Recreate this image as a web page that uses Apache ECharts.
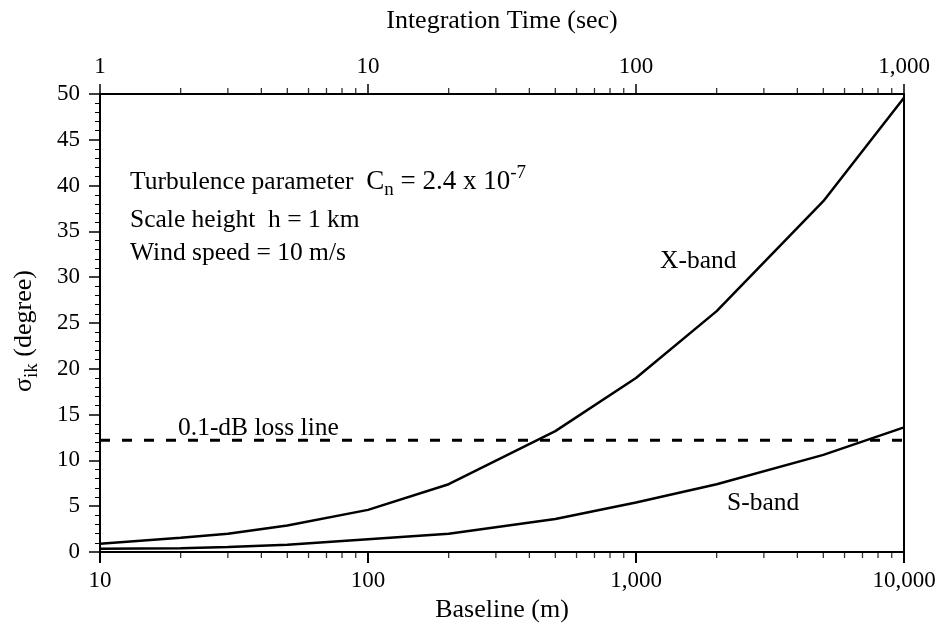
<!DOCTYPE html>
<html>
<head>
<meta charset="utf-8">
<script src="https://cdn.jsdelivr.net/npm/echarts@6/dist/echarts.min.js"></script>
<style>
  html, body { margin: 0; padding: 0; background: #fff; }
  #main { width: 942px; height: 629px; }
</style>
</head>
<body>
<div id="main"></div>
<script>
// baseline (m) sample points
var baseline = [10, 20, 30, 50, 100, 200, 500, 1000, 2000, 5000, 10000];
var xBand = [0.9, 1.55, 2.0, 2.9, 4.6, 7.4, 13.2, 19.0, 26.3, 38.3, 49.6];
var sBand = [0.35, 0.4, 0.55, 0.8, 1.4, 2.0, 3.6, 5.4, 7.4, 10.6, 13.6];
// 0.1-dB loss line
var lossX = [10, 10000];
var lossY = 12.2;
// minor ticks of the two log axes
var minorBottom = [20, 30, 40, 50, 60, 70, 80, 90, 200, 300, 400, 500, 600, 700, 800, 900,
    2000, 3000, 4000, 5000, 6000, 7000, 8000, 9000];
var minorTop = [2, 3, 4, 5, 6, 7, 8, 9, 20, 30, 40, 50, 60, 70, 80, 90,
    200, 300, 400, 500, 600, 700, 800, 900];

var FONT = 'Liberation Serif';
var TXT = 25.5;

function pairs(xs, ys) {
    return xs.map(function (x, i) { return [x, ys[i]]; });
}
function fmt(v) {
    return String(v).replace(/\B(?=(\d{3})+(?!\d))/g, ',');
}

var myChart = echarts.init(document.getElementById('main'));
var option = {
    animation: false,
    grid: {
        left: 100,
        right: 38,
        top: 94,
        bottom: 77,
        outerBoundsMode: 'none'
    },
    xAxis: [{
        type: 'log',
        logBase: 10,
        min: 10,
        max: 10000,
        name: 'Baseline (m)',
        nameLocation: 'middle',
        nameGap: 43,
        nameTextStyle: { fontFamily: FONT, fontSize: 26, color: '#000' },
        axisLine: { onZero: false, lineStyle: { color: '#000', width: 2 } },
        axisTick: { length: 11, lineStyle: { color: '#000', width: 2 } },
        axisLabel: {
            margin: 17, fontFamily: FONT, fontSize: 23, color: '#000',
            formatter: function (v) { return fmt(v); }
        },
        splitLine: { show: false }
    }, {
        type: 'log',
        logBase: 10,
        min: 1,
        max: 1000,
        position: 'top',
        name: 'Integration Time (sec)',
        nameLocation: 'middle',
        nameGap: 60,
        nameTextStyle: { fontFamily: FONT, fontSize: 26, color: '#000' },
        axisLine: { onZero: false, lineStyle: { color: '#000', width: 2 } },
        axisTick: { length: 10, lineStyle: { color: '#000', width: 1.5 } },
        axisLabel: {
            margin: 16, fontFamily: FONT, fontSize: 23, color: '#000',
            formatter: function (v) { return fmt(v); }
        },
        splitLine: { show: false }
    }],
    yAxis: [{
        type: 'value',
        min: 0,
        max: 50,
        interval: 5,
        axisLine: { show: true, onZero: false, lineStyle: { color: '#000', width: 2 } },
        axisTick: { length: 11, lineStyle: { color: '#000', width: 1.5 } },
        minorTick: { show: true, splitNumber: 5, length: 5, lineStyle: { color: '#000', width: 1 } },
        axisLabel: { margin: 20, fontFamily: FONT, fontSize: 23, color: '#000' },
        splitLine: { show: false }
    }, {
        type: 'value',
        min: 0,
        max: 50,
        position: 'right',
        axisLine: { show: true, onZero: false, lineStyle: { color: '#000', width: 2 } },
        axisTick: { show: false },
        axisLabel: { show: false },
        splitLine: { show: false }
    }],
    series: [{
        name: 'X-band',
        type: 'line',
        data: pairs(baseline, xBand),
        symbol: 'none',
        lineStyle: { color: '#000', width: 2.5 }
    }, {
        name: 'S-band',
        type: 'line',
        data: pairs(baseline, sBand),
        symbol: 'none',
        lineStyle: { color: '#000', width: 2.5 }
    }, {
        name: '0.1-dB loss line',
        type: 'line',
        data: lossX.map(function (x) { return [x, lossY]; }),
        symbol: 'none',
        lineStyle: { color: '#000', width: 3, type: [10, 12] }
    }, {
        name: 'minorBottom',
        type: 'scatter',
        clip: false,
        silent: true,
        data: minorBottom.map(function (x) { return [x, 0]; }),
        symbol: 'rect',
        symbolSize: [1.3, 6],
        symbolOffset: [0, 3],
        itemStyle: { color: '#000' }
    }, {
        name: 'minorTop',
        type: 'scatter',
        xAxisIndex: 1,
        clip: false,
        silent: true,
        data: minorTop.map(function (x) { return [x, 50]; }),
        symbol: 'rect',
        symbolSize: [1.3, 6],
        symbolOffset: [0, -3],
        itemStyle: { color: '#000' }
    }],
    graphic: [{
        type: 'text',
        left: 130,
        top: 164,
        style: {
            text: '{t|Turbulence parameter  }{c|C}{sub|n}{c| = 2.4 x 10}{sup|-7}',
            fill: '#000',
            rich: {
                t: { fontFamily: FONT, fontSize: TXT, lineHeight: 36, verticalAlign: 'middle' },
                c: { fontFamily: FONT, fontSize: 27, lineHeight: 36, verticalAlign: 'middle' },
                sub: { fontFamily: FONT, fontSize: 19, lineHeight: 20, verticalAlign: 'bottom' },
                sup: { fontFamily: FONT, fontSize: 19, lineHeight: 16, verticalAlign: 'top' }
            }
        }
    }, {
        type: 'text',
        left: 130,
        top: 207,
        style: { text: 'Scale height  h = 1 km', fontFamily: FONT, fontSize: TXT, fill: '#000' }
    }, {
        type: 'text',
        left: 130,
        top: 240,
        style: { text: 'Wind speed = 10 m/s', fontFamily: FONT, fontSize: TXT, fill: '#000' }
    }, {
        type: 'text',
        left: 660,
        top: 248,
        style: { text: 'X-band', fontFamily: FONT, fontSize: TXT, fill: '#000' }
    }, {
        type: 'text',
        left: 727,
        top: 490,
        style: { text: 'S-band', fontFamily: FONT, fontSize: TXT, fill: '#000' }
    }, {
        type: 'text',
        left: 178,
        top: 415,
        style: { text: '0.1-dB loss line', fontFamily: FONT, fontSize: TXT, fill: '#000' }
    }, {
        type: 'text',
        x: 24,
        y: 331,
        rotation: Math.PI / 2,
        style: {
            text: '{a|σ}{b|ik}{a| (degree)}',
            align: 'center',
            verticalAlign: 'middle',
            fill: '#000',
            rich: {
                a: { fontFamily: FONT, fontSize: 26, lineHeight: 36, verticalAlign: 'middle' },
                b: { fontFamily: FONT, fontSize: 19, lineHeight: 20, verticalAlign: 'bottom' }
            }
        }
    }]
};

myChart.setOption(option);
</script>
</body>
</html>
